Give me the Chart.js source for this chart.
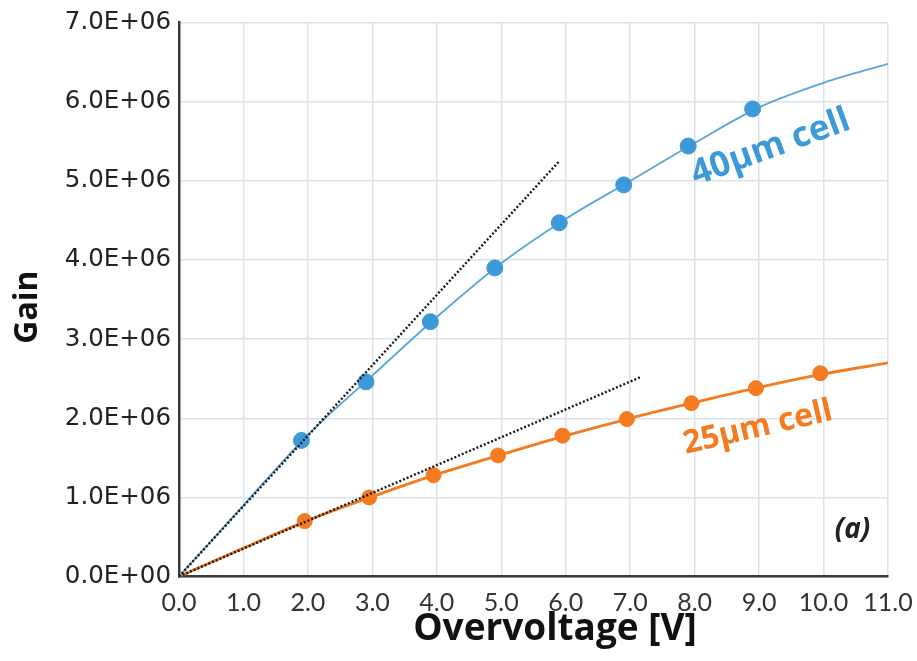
<!DOCTYPE html>
<html>
<head>
<meta charset="utf-8">
<script src="https://cdn.jsdelivr.net/npm/chart.js@4"></script>
<style>
  html, body { margin: 0; padding: 0; background: #fff; }
  #wrap { width: 917px; height: 661px; }
</style>
</head>
<body>
<div id="wrap"><canvas id="gainChart" width="917" height="661"></canvas></div>
<script>
// measured points (gain in units of 1e6)
var volt40 = [1.9, 2.9, 3.9, 4.9, 5.9, 6.9, 7.9, 8.9];
var gain40 = [1.72, 2.46, 3.22, 3.90, 4.47, 4.95, 5.44, 5.91];
var volt25 = [1.95, 2.95, 3.95, 4.95, 5.95, 6.95, 7.95, 8.95, 9.95];
var gain25 = [0.70, 1.00, 1.28, 1.53, 1.78, 1.99, 2.19, 2.38, 2.57];

var fitVolt = [0, 1, 2, 3, 4, 5, 6, 7, 8, 9, 10, 11];
var fit40 = [0, 0.90, 1.79, 2.54, 3.28, 3.96, 4.52, 5.00, 5.48, 5.93, 6.24, 6.48];
var fit25 = [0, 0.36, 0.71, 1.01, 1.29, 1.54, 1.78, 2.00, 2.20, 2.39, 2.56, 2.70];

// linear (dotted) guides from origin
var lin40Volt = [0, 5.9];
var lin40Gain = [0, 5.25];
var lin25Volt = [0, 7.16];
var lin25Gain = [0, 2.52];

var xTicks = [0, 1, 2, 3, 4, 5, 6, 7, 8, 9, 10, 11];
var yTicks = [0, 1, 2, 3, 4, 5, 6, 7];

var blue = '#3d9ad8';
var orange = '#f47b20';

function pts(xs, ys) {
  return xs.map((x, i) => ({ x: x, y: ys[i] * 1e6 }));
}

var labelPlugin = {
  id: 'cellLabels',
  afterDatasetsDraw(chart) {
    var ctx = chart.ctx;
    var xs = chart.scales.x, ys = chart.scales.y;
    function put(s, px, py, angle, font, color) {
      ctx.save();
      ctx.translate(px, py);
      ctx.rotate(angle * Math.PI / 180);
      ctx.font = font;
      ctx.fillStyle = color;
      ctx.textAlign = 'center';
      ctx.textBaseline = 'middle';
      ctx.fillText(s, 0, 0);
      ctx.restore();
    }
    function txt(s, vx, vy, angle, font, color) {
      put(s, xs.getPixelForValue(vx), ys.getPixelForValue(vy * 1e6), angle, font, color);
    }
    txt('40\u00b5m cell', 9.18, 5.42, -20, 'bold 35px "Open Sans"', blue);
    txt('25\u00b5m cell', 8.98, 1.88, -13, 'bold 32px "Open Sans"', orange);
    txt('(a)', 10.45, 0.59, 0, 'italic bold 28px "Open Sans"', '#222');
    // axis titles
    put('Overvoltage [V]', 555, 629, 0, 'bold 37px "Open Sans"', '#111');
    put('Gain', 28, 307, -90, 'bold 32px "Open Sans"', '#111');
  }
};

var ctx = document.getElementById('gainChart');
var gainChart = new Chart(ctx, {
  type: 'scatter',
  data: {
    datasets: [
      {
        label: 'lin40', data: pts(lin40Volt, lin40Gain), showLine: true,
        borderColor: '#1a1a1a', borderWidth: 2.4, borderDash: [2, 2], pointRadius: 0, order: 0
      },
      {
        label: 'lin25', data: pts(lin25Volt, lin25Gain), showLine: true,
        borderColor: '#1a1a1a', borderWidth: 2.4, borderDash: [2, 2], pointRadius: 0, order: 0
      },
      {
        label: '40um', data: pts(volt40, gain40), showLine: false,
        backgroundColor: blue, borderColor: blue, pointRadius: 8, order: 1
      },
      {
        label: '25um', data: pts(volt25, gain25), showLine: false,
        backgroundColor: orange, borderColor: orange, pointRadius: 7.5, order: 1
      },
      {
        label: 'fit40', data: pts(fitVolt, fit40), showLine: true,
        borderColor: '#58a6dc', borderWidth: 1.8, pointRadius: 0,
        cubicInterpolationMode: 'monotone', order: 2
      },
      {
        label: 'fit25', data: pts(fitVolt, fit25), showLine: true,
        borderColor: orange, borderWidth: 2.8, pointRadius: 0,
        cubicInterpolationMode: 'monotone', order: 2
      }
    ]
  },
  options: {
    responsive: false,
    animation: false,
    layout: { padding: { top: 20, right: 29, left: 0, bottom: 0 } },
    plugins: { legend: { display: false }, tooltip: { enabled: false } },
    scales: {
      x: {
        type: 'linear', min: 0, max: 11,
        afterBuildTicks: s => { s.ticks = xTicks.map(v => ({ value: v })); },
        afterFit: s => { s.height = 84.5; s.paddingRight = 0; s.paddingLeft = 0; },
        grid: { color: '#dde2ea', lineWidth: 1.5, drawTicks: false },
        border: { color: '#3a3a3a', width: 2.5 },
        ticks: {
          color: '#333', padding: 11, maxRotation: 0,
          font: { family: 'Lato', size: 25 },
          callback: v => v.toFixed(1)
        }
      },
      y: {
        type: 'linear', min: 0, max: 7e6,
        afterBuildTicks: s => { s.ticks = yTicks.map(v => ({ value: v * 1e6 })); },
        afterFit: s => { s.width = 179; },
        grid: { color: '#dde2ea', lineWidth: 1.5, drawTicks: false },
        border: { color: '#3a3a3a', width: 2.5 },
        ticks: {
          color: '#222', padding: 8,
          font: { family: 'DejaVu Sans', size: 24.5 },
          callback: v => (v / 1e6).toFixed(1) + (v === 0 ? 'E+00' : 'E+06')
        }
      }
    }
  },
  plugins: [labelPlugin]
});
</script>
</body>
</html>
